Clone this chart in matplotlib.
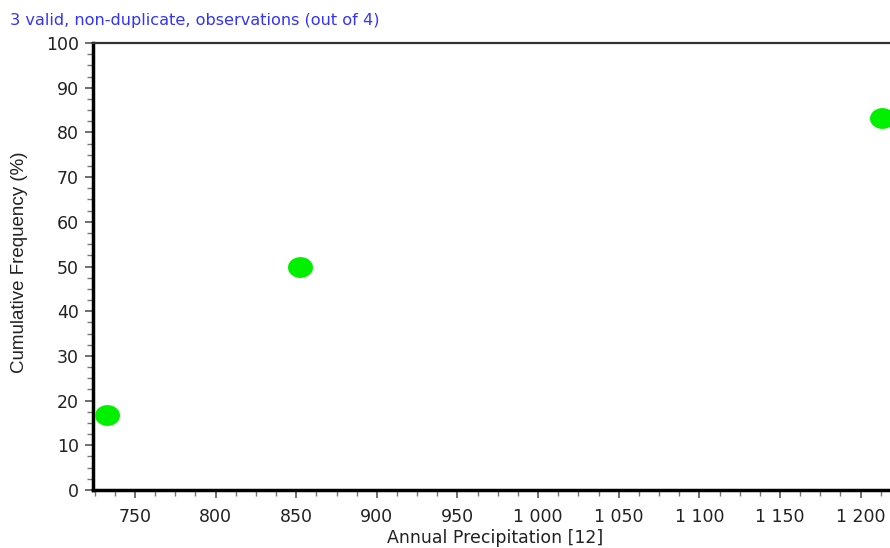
import numpy as np
import matplotlib
matplotlib.use("Agg")
import matplotlib.pyplot as plt
from matplotlib.path import Path
from matplotlib.ticker import FuncFormatter, MultipleLocator

# data
precip = [732.6, 852.3, 1213.0]
cum_freq = [16.67, 50.0, 83.33]
title_text = "3 valid, non-duplicate, observations (out of 4)"
x_label = "Annual Precipitation [12]"
y_label = "Cumulative Frequency (%)"

plt.rcParams['font.family'] = ['DejaVu Sans']

W, H = 890, 548
fig = plt.figure(figsize=(W / 100, H / 100), dpi=100)
ax = fig.add_axes([93 / W, (H - 490) / H, (W - 93) / W, (490 - 43) / H])

# slightly wide ellipse marker
t = np.linspace(0, 2 * np.pi, 60)
ell = Path(np.column_stack([1.2 * np.cos(t), np.sin(t)]), closed=True)
ax.plot(precip, cum_freq, linestyle='none', marker=ell, markersize=18,
        color='#00f000', markeredgewidth=0, clip_on=False, zorder=5)

ax.set_xlim(724, 1218.2)
ax.set_ylim(0, 100)

ax.xaxis.set_major_locator(MultipleLocator(50))
ax.xaxis.set_minor_locator(MultipleLocator(12.5))
ax.yaxis.set_major_locator(MultipleLocator(10))
ax.yaxis.set_minor_locator(MultipleLocator(2.5))
ax.xaxis.set_major_formatter(FuncFormatter(lambda v, p: f"{v:,.0f}".replace(",", " ")))

ax.tick_params(which='major', direction='out', length=6, width=1.2, color='#555555',
               labelsize=12.5, labelcolor='#222222')
ax.tick_params(axis='x', which='major', pad=7)
ax.tick_params(axis='y', which='major', pad=4)
ax.tick_params(which='minor', direction='out', length=4, width=1, color='#777777')

ax.spines['right'].set_visible(False)
ax.spines['left'].set_linewidth(2.5)
ax.spines['bottom'].set_linewidth(2.5)
ax.spines['top'].set_linewidth(1.6)
ax.spines['top'].set_color('#333333')

ax.set_xlabel(x_label, fontsize=12.5, color='#222222')
ax.xaxis.set_label_coords((495 - 93) / (W - 93), -(538 - 490) / (490 - 43))
ax.xaxis.label.set_va('center')
ax.set_ylabel(y_label, fontsize=13.5, color='#222222',
              family=['Liberation Sans Narrow', 'Liberation Sans'])
ax.yaxis.set_label_coords(-(93 - 20) / (W - 93), (490 - 262) / (490 - 43))
ax.yaxis.label.set_va('center')

fig.text(10 / W, 1 - 20 / H, title_text, color='#3333ff', fontsize=11.6,
         va='center', ha='left')

fig.savefig('out.png', dpi=100)
